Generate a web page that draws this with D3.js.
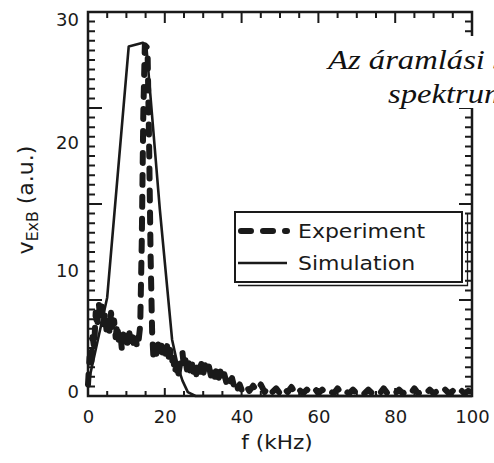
<!DOCTYPE html>
<html>
<head>
<meta charset="utf-8">
<script src="https://cdn.jsdelivr.net/npm/d3@7"></script>
<style>
  body { margin: 0; background: #fff; }
  svg { display: block; }
</style>
</head>
<body>
<svg id="chart" width="494" height="463"></svg>
<script>
// Measured E×B velocity spectrum (kHz, arbitrary units)
const expFreq = [0,0.4,0.8,1.2,1.6,2.0,2.4,2.8,3.2,3.6,4.0,4.4,4.8,5.2,5.6,6.0,6.4,6.8,7.2,7.6,8.0,8.4,8.8,9.2,9.6,10.0,10.4,10.8,11.2,11.6,12.0,12.4,12.8,13.2,
  13.6,14.0,14.4,14.8,15.5,15.9,16.3,16.7,17.0,
  17.4,17.8,18.2,18.6,19.0,19.4,19.8,20.2,20.6,21.0,21.4,21.8,22.2,22.6,23.0,23.4,23.8,24.2,24.6,25.0,25.4,25.8,26.2,26.6,27.0,27.4,27.8,28.2,28.6,29.0,29.5,30.0,30.5,31.0,31.5,32.0,32.5,33.0,33.5,34.0,34.5,35.0,35.5,36.0,36.5,37.0,37.5,38.0,38.5,39.0,39.5,
  40,41,42,43,44,45,46,47,48,49,50,51,52,53,54,55,56,57,58,59,60,61,62,63,64,65,66,67,68,69,70,71,72,73,74,75,76,77,78,79,80,81,82,83,84,85,86,87,88,89,90,91,92,93,94,95,96,97,98,99,100];
const expAmp = [0.9,3.0,2.2,4.6,3.8,6.5,5.4,7.3,6.0,7.0,5.6,6.4,5.2,6.2,5.0,6.5,5.4,5.9,4.6,5.6,4.4,5.0,3.7,4.8,3.9,4.7,3.8,4.9,4.0,4.6,3.7,4.5,3.8,4.4,
  5.5,12,22,27.4,27.2,20,11,5,3.2,
  4.0,3.3,4.2,3.5,4.3,3.4,4.0,3.3,3.9,3.0,3.6,2.6,3.0,1.8,2.4,1.4,2.2,2.8,3.4,2.2,2.8,2.0,2.7,2.0,2.8,1.9,2.5,1.7,2.6,1.9,2.5,1.7,2.4,1.8,2.3,1.6,2.2,1.5,2.1,1.4,1.9,1.2,1.7,1.1,1.5,1.0,1.4,0.8,1.1,0.6,0.9,
  0.5,0.9,0.4,0.8,0.4,0.9,0.3,0.7,0.3,0.6,0.2,0.6,0.3,0.7,0.2,0.5,0.2,0.5,0.3,0.6,0.2,0.5,0.2,0.4,0.2,0.6,0.2,0.4,0.2,0.5,0.2,0.4,0.2,0.5,0.2,0.4,0.2,0.6,0.2,0.4,0.2,0.5,0.2,0.4,0.2,0.6,0.2,0.4,0.2,0.5,0.2,0.4,0.2,0.5,0.2,0.4,0.2,0.5,0.2,0.4,0.3];

// Simulated spectrum
const simFreq = [0,5,10.6,14.3,15.2,18.7,21.9,23.5,24.6,26,28,100];
const simAmp  = [0.9,7.7,27.3,27.6,27.3,14.6,4.4,2.2,1.2,0.3,0,0];

const seriesNames = ["Experiment", "Simulation"];
const xTickLabels = [0, 20, 40, 60, 80, 100];
const yTickLabels = [0, 10, 20, 30];
const xMinorStep = 5, xMajorStep = 20;
const yMinorStep = 0.75, yMajorStep = 7.5;
const titleLines = ["Az áramlási sebesség", "spektruma"];

const svg = d3.select("#chart");
const plotL = 88, plotR = 472, plotT = 12, plotB = 396;

const x = d3.scaleLinear().domain([0, 100]).range([plotL, plotR]);
const y = d3.scaleLinear().domain([0, 30]).range([plotB, plotT]);

const ink = "#1a1a1a";
const sans = "'DejaVu Sans', sans-serif";

// Frame
svg.append("rect")
  .attr("x", plotL).attr("y", plotT)
  .attr("width", plotR - plotL).attr("height", plotB - plotT)
  .attr("fill", "none").attr("stroke", ink).attr("stroke-width", 2.5);

// Inward-pointing tick marks on all four sides, as one path
const xTicks = d3.range(0, 100.001, xMinorStep);
const yTicks = d3.range(0, 30.001, yMinorStep);
const isMajor = (v, step) => Math.abs(v / step - Math.round(v / step)) < 1e-6;

const tp = d3.path();
xTicks.forEach(d => {
  const px = x(d);
  tp.moveTo(px, plotT); tp.lineTo(px, plotT + (isMajor(d, xMajorStep) ? 11 : 6));
  tp.moveTo(px, plotB); tp.lineTo(px, plotB - (isMajor(d, xMajorStep) ? 8 : 5));
});
yTicks.forEach(d => {
  const py = y(d);
  tp.moveTo(plotL, py); tp.lineTo(plotL + (isMajor(d, yMajorStep) ? 14 : 7), py);
  tp.moveTo(plotR, py); tp.lineTo(plotR - (isMajor(d, yMajorStep) ? 13 : 7), py);
});
svg.append("path")
  .attr("d", tp.toString())
  .attr("fill", "none").attr("stroke", ink).attr("stroke-width", 2);

// Tick labels
const xLab = svg.append("g")
  .attr("transform", `translate(0,${plotB})`)
  .call(d3.axisBottom(x).tickValues(xTickLabels).tickSize(0).tickPadding(14).tickFormat(d3.format("d")));
xLab.select(".domain").remove();
xLab.selectAll("text").attr("font-family", sans).attr("font-size", 18).attr("fill", ink);

const yLab = svg.append("g")
  .attr("transform", `translate(${plotL},0)`)
  .call(d3.axisLeft(y).tickValues(yTickLabels).tickSize(0).tickPadding(9).tickFormat(d3.format("d")));
yLab.select(".domain").remove();
yLab.selectAll("text").attr("font-family", sans).attr("font-size", 18).attr("fill", ink)
  .attr("y", d => Math.max(plotT + 8, Math.min(plotB - 4, y(d) + 3)) - y(d));

// Axis titles
svg.append("text")
  .attr("transform", "translate(277,449) scale(1.08,1)")
  .attr("text-anchor", "middle")
  .attr("font-family", sans).attr("font-size", 20).attr("fill", ink)
  .text("f (kHz)");

const yTitle = svg.append("text")
  .attr("transform", "translate(33,200) rotate(-90) scale(1.05,1)")
  .attr("text-anchor", "middle")
  .attr("font-family", sans).attr("font-size", 21).attr("fill", ink);
yTitle.append("tspan").text("v");
yTitle.append("tspan").attr("font-size", 15).attr("dy", 5).text("ExB");
yTitle.append("tspan").attr("dy", -5).text(" (a.u.)");

// Data lines
const lineGen = d3.line().x(d => x(d[0])).y(d => y(d[1]));
const simData = d3.zip(simFreq, simAmp);
const expData = d3.zip(expFreq, expAmp);

svg.append("path").datum(simData)
  .attr("d", lineGen)
  .attr("fill", "none").attr("stroke", ink).attr("stroke-width", 2.6)
  .attr("stroke-linejoin", "round");

svg.append("path").datum(expData)
  .attr("d", lineGen)
  .attr("fill", "none").attr("stroke", ink).attr("stroke-width", 6)
  .attr("stroke-dasharray", "10,12").attr("stroke-linecap", "round")
  .attr("stroke-linejoin", "round");

// Legend
const lg = svg.append("g");
lg.append("path")
  .attr("d", "M238,285.5 H467.5 V214")
  .attr("fill", "none").attr("stroke", ink).attr("stroke-width", 1.3);
lg.append("rect")
  .attr("x", 235).attr("y", 212).attr("width", 227).attr("height", 70)
  .attr("fill", "#fff").attr("stroke", ink).attr("stroke-width", 2);
lg.append("line")
  .attr("x1", 241).attr("x2", 287).attr("y1", 231).attr("y2", 231)
  .attr("stroke", ink).attr("stroke-width", 6)
  .attr("stroke-dasharray", "10,12").attr("stroke-linecap", "round");
lg.append("line")
  .attr("x1", 238).attr("x2", 287).attr("y1", 263).attr("y2", 263)
  .attr("stroke", ink).attr("stroke-width", 2.6);
seriesNames.forEach((name, i) => {
  lg.append("text")
    .attr("transform", `translate(298,${238 + i * 32}) scale(1.1,1)`)
    .attr("font-family", sans).attr("font-size", 20).attr("fill", ink)
    .text(name);
});

// Caption overlay on a white backing, running off the right edge
svg.append("rect")
  .attr("x", 318).attr("y", 36).attr("width", 176).attr("height", 72)
  .attr("fill", "#fff");
const cap = svg.append("g")
  .attr("font-family", "'Liberation Serif', 'Times New Roman', serif")
  .attr("font-style", "italic").attr("font-size", 27).attr("fill", "#111");
cap.append("text").attr("transform", "translate(328,69) scale(1.21,1)").text(titleLines[0]);
cap.append("text").attr("transform", "translate(388,103) scale(1.21,1)").text(titleLines[1]);
</script>
</body>
</html>
